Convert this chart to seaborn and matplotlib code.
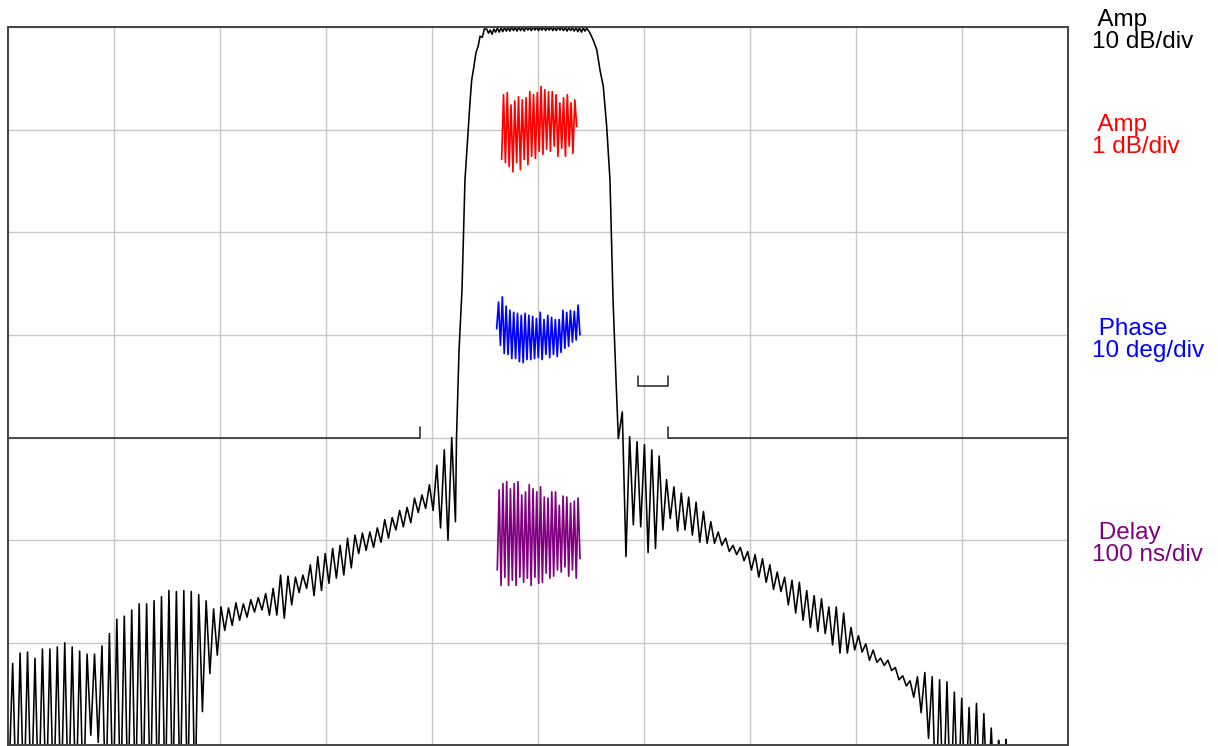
import numpy as np
import pandas as pd
import matplotlib
matplotlib.use("Agg")
import matplotlib.pyplot as plt
import matplotlib.transforms as mtransforms
import seaborn as sns

# x axis in divisions (0..10), y axis of main trace in dB (10 dB/div, top = 0 dB)

# lower stopband: lobe peaks and the troughs that follow each one (dB)
left_peaks = [-62.0, -61.0, -60.9, -61.5, -60.6, -60.6, -60.4, -60.0, -60.4, -60.8,
              -61.1, -61.1, -60.3, -59.1, -57.7, -57.4, -56.8, -56.2, -56.2, -55.9,
              -55.5, -54.9, -55.0, -54.9, -55.0, -55.3, -55.9, -56.7, -56.5, -56.6,
              -56.1, -56.2, -55.8, -55.6, -55.2, -54.7, -53.4, -53.5, -53.6, -53.4,
              -52.4, -51.6, -51.3, -50.8, -50.5, -49.8, -49.5, -49.3, -49.2, -48.8,
              -48.0, -47.8, -47.1, -46.8, -45.9, -45.6, -44.6, -42.7, -41.2, -40.0]
left_troughs = [-76, -76, -76, -76, -76, -76, -76, -76, -76, -76,
                -69.0, -69.7, -76, -76, -76, -76, -76, -76, -76, -76,
                -76, -76, -76, -76, -76, -66.7, -63.0, -61.2, -58.8, -58.3,
                -57.8, -57.5, -57.0, -56.8, -57.3, -57.3, -57.6, -56.3, -55.1, -54.7,
                -55.4, -54.9, -54.2, -53.7, -53.4, -52.7, -51.3, -51.0, -50.7, -50.2,
                -49.8, -49.0, -48.7, -48.3, -47.3, -46.9, -47.1, -48.8, -50.0, -48.2]
left_span = (0.044, 4.186)

# passband: lower skirt, top ripple, upper skirt
skirt_lo_x = [4.231, 4.255, 4.283, 4.311, 4.342, 4.358, 4.374, 4.390, 4.415,
              4.437, 4.453, 4.475, 4.493]
skirt_lo_db = [-40.1, -31.5, -25.6, -14.9, -10.0, -7.4, -5.2, -4.2, -2.5,
               -1.8, -0.9, -1.0, -0.2]
ripple_db = [-0.2, -0.6, -0.3, -0.7, -0.2, -0.5, -0.1, -0.5, -0.1, -0.45,
             -0.05, -0.4, -0.05, -0.4, 0.0, -0.35, -0.05, -0.4, 0.0, -0.35,
             -0.05, -0.4, 0.0, -0.3, -0.05, -0.35, 0.0, -0.3, 0.0, -0.35,
             -0.05, -0.3, 0.0, -0.35, -0.05, -0.3, 0.0, -0.35, -0.05, -0.35,
             0.0, -0.3, -0.05, -0.35, -0.05, -0.4, -0.05, -0.35, -0.1, -0.4,
             -0.05, -0.45, -0.1, -0.5, -0.1, -0.4]
ripple_span = (4.516, 5.443)
skirt_hi_x = [5.459, 5.491, 5.522, 5.554, 5.585, 5.616, 5.648, 5.679, 5.708,
              5.736, 5.758]
skirt_hi_db = [-0.1, -0.6, -1.3, -2.2, -4.2, -5.8, -9.7, -14.9, -26.6,
               -34.4, -40.1]

# upper stopband
right_peaks = [-37.5, -39.9, -40.4, -40.7, -41.2, -41.8, -44.1, -44.8, -45.4, -45.8,
               -46.3, -47.2, -48.2, -49.2, -49.8, -50.5, -50.7, -51.1, -51.4, -51.8,
               -52.4, -53.1, -53.6, -53.9, -54.1, -54.9, -55.4, -55.7, -56.5, -56.5,
               -57.1, -58.5, -59.3, -60.1, -60.7, -61.5, -61.7, -62.4, -63.2, -63.7,
               -63.3, -62.9, -63.3, -63.6, -63.8, -64.8, -65.4, -66.3, -65.9, -66.9,
               -68.3, -69.5, -69.4]
right_troughs = [-51.6, -48.5, -48.7, -51.2, -50.8, -49.0, -47.9, -49.1, -49.0, -49.5,
                 -50.2, -50.3, -50.3, -50.5, -51.1, -51.4, -52.0, -52.9, -53.6, -54.1,
                 -54.8, -55.0, -56.3, -57.1, -57.8, -58.5, -58.9, -59.1, -60.2, -61.0,
                 -61.0, -60.7, -60.9, -61.7, -61.9, -62.2, -62.7, -63.6, -64.2, -65.3,
                 -66.8, -69.3, -76, -76, -76, -76, -76, -76, -76, -76,
                 -76, -76, -76]
right_span = (5.795, 9.415)

# passband detail traces
amp_fine_db = [-0.29, 0.34, -0.32, 0.36, -0.36, 0.24, -0.41, 0.28, -0.32, 0.32,
               -0.39, 0.29, -0.29, 0.31, -0.34, 0.37, -0.26, 0.34, -0.28, 0.36,
               -0.21, 0.42, -0.24, 0.39, -0.19, 0.37, -0.21, 0.37, -0.16, 0.34,
               -0.26, 0.26, -0.18, 0.31, -0.26, 0.34, -0.16, 0.26, -0.23, 0.29, 0.03]
amp_fine_span = (4.657, 5.365)
phase_deg = [0.6, 3.2, -1.0, 3.7, -1.8, 2.8, -1.9, 2.4, -2.3, 2.2,
             -2.3, 2.1, -2.6, 1.9, -2.7, 2.1, -2.4, 1.9, -2.4, 1.8,
             -2.3, 1.6, -2.2, 2.2, -2.4, 1.5, -1.9, 1.9, -2.2, 1.7,
             -1.9, 1.5, -2.1, 1.5, -1.7, 2.4, -1.3, 2.2, -1.1, 2.4,
             -0.7, 2.3, -0.5, 2.9, 0.0]
phase_span = (4.610, 5.396)
delay_ns = [-29, 49, -44, 55, -36, 57, -44, 50, -39, 55,
            -44, 57, -36, 44, -41, 47, -37, 54, -44, 50,
            -36, 47, -42, 52, -41, 42, -32, 41, -37, 47,
            -35, 47, -29, 34, -31, 43, -26, 42, -35, 36,
            -29, 38, -37, 41, -18]
delay_span = (4.616, 5.396)

# spec mask (dB)
mask_lo_x, mask_lo_db = [0.0, 3.887, 3.887], [-40.0, -40.0, -39.0]
mask_hi_x, mask_hi_db = [6.226, 6.226, 10.0], [-39.0, -40.0, -40.0]
bracket_x, bracket_db = [5.943, 5.943, 6.226, 6.226], [-34.0, -35.0, -35.0, -34.0]


def interleave(span, peaks, troughs):
    xp = np.linspace(span[0], span[1], len(peaks))
    half = (xp[1] - xp[0]) / 2
    xs, ys = [], []
    for i in range(len(peaks)):
        xs += [xp[i], xp[i] + half]
        ys += [peaks[i], troughs[i]]
    return xs, ys


lx, ly = interleave(left_span, left_peaks, left_troughs)
rx, ry = interleave(right_span, right_peaks, right_troughs)
px = list(np.linspace(ripple_span[0], ripple_span[1], len(ripple_db)))

main = pd.DataFrame({
    "x": [0.0] + lx + skirt_lo_x + px + skirt_hi_x + rx + [10.0],
    "db": [-76.0] + ly + skirt_lo_db + ripple_db + skirt_hi_db + ry + [-76.0],
})


def trace_df(span, vals):
    return pd.DataFrame({"x": np.linspace(span[0], span[1], len(vals)), "v": vals})


sns.set_theme(style="white")
plt.rcParams["font.family"] = ["Liberation Sans", "DejaVu Sans"]

fig = plt.figure(figsize=(12.18, 7.46), dpi=100)
ax = fig.add_axes([0.00657, 0.0007, 0.87028, 0.9631])

sns.lineplot(data=main, x="x", y="db", ax=ax, color="black", lw=1.15,
             sort=False, estimator=None, solid_joinstyle="round")
for mx, my in [(mask_lo_x, mask_lo_db), (mask_hi_x, mask_hi_db), (bracket_x, bracket_db)]:
    ax.plot(mx, my, color="#222222", lw=1.1)

ax.set_xlim(0, 10)
ax.set_ylim(-70, 0)
ax.set_xticks(range(11))
ax.set_yticks(range(-70, 1, 10))
ax.grid(True, color="#c8c8c8", lw=1.0)
ax.tick_params(length=0, labelbottom=False, labelleft=False)
ax.set_xlabel("")
ax.set_ylabel("")
for s in ax.spines.values():
    s.set_color("#444444")
    s.set_linewidth(1.4)

# detail traces on their own vertical scales
layers = [
    ((-6, 1), amp_fine_span, amp_fine_db, "#ff0000"),     # 1 dB/div, ref at -10 line
    ((-40, 30), phase_span, phase_deg, "#0000ff"),        # 10 deg/div, ref at -30 line
    ((-200, 500), delay_span, delay_ns, "#800080"),       # 100 ns/div, ref at -50 line
]
for lim, span, vals, col in layers:
    tw = ax.twinx()
    sns.lineplot(data=trace_df(span, vals), x="x", y="v", ax=tw, color=col,
                 lw=1.25, sort=False, estimator=None)
    tw.set_ylim(*lim)
    tw.set_xlim(0, 10)
    tw.axis("off")

trans = mtransforms.blended_transform_factory(ax.transAxes, ax.transData)
labels = [(" Amp\n10 dB/div", -0.4, "black"), (" Amp\n1 dB/div", -10.6, "#ff0000"),
          (" Phase\n10 deg/div", -30.5, "#0000ff"), (" Delay\n100 ns/div", -50.4, "#800080")]
for txt, yv, col in labels:
    ax.text(1.0224, yv, txt, transform=trans, ha="left", va="center", color=col,
            fontsize=17.5, linespacing=1.0, clip_on=False)

fig.savefig("out.png", dpi=100)
